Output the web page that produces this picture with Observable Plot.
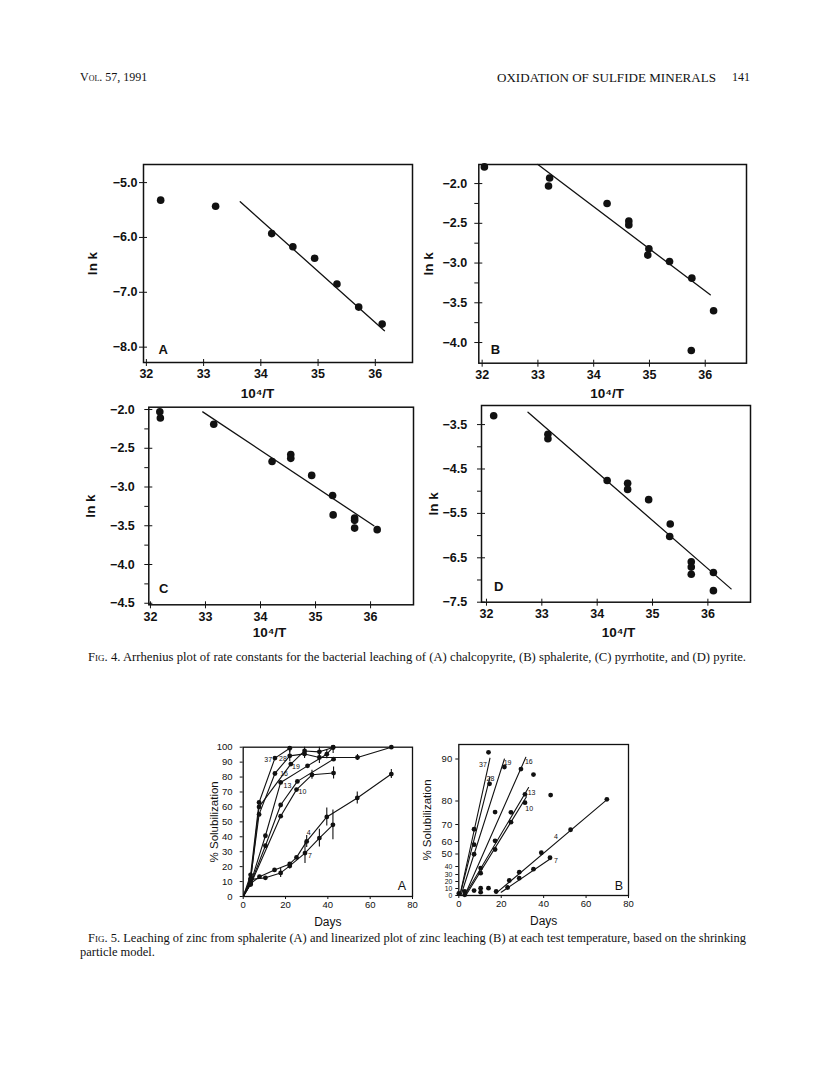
<!DOCTYPE html>
<html><head><meta charset="utf-8">
<script src="https://cdn.jsdelivr.net/npm/d3@7"></script>
<script src="https://cdn.jsdelivr.net/npm/@observablehq/plot@0.6"></script>
<style>
html,body{margin:0;padding:0;background:#fff;}
body{width:816px;height:1076px;position:relative;overflow:hidden;}
.abs{position:absolute;}
.serif{font-family:"Liberation Serif","Times New Roman",serif;color:#111;white-space:nowrap;}
.sc{font-variant:small-caps;}
</style>
</head><body>
<div class="abs serif" style="left:80px;top:70px;font-size:12px;"><span class="sc">Vol.</span> 57, 1991</div>
<div class="abs serif" id="runhead" style="left:497px;top:70px;font-size:11.5px;">OXIDATION OF SULFIDE MINERALS</div>
<div class="abs serif" style="left:732px;top:70px;font-size:12px;">141</div>
<div class="abs serif" id="cap4" style="left:88px;top:650px;font-size:10.8px;"><span class="sc">Fig.</span> 4. Arrhenius plot of rate constants for the bacterial leaching of (A) chalcopyrite, (B) sphalerite, (C) pyrrhotite, and (D) pyrite.</div>
<div class="abs serif" id="cap5a" style="left:88px;top:931px;font-size:10.8px;"><span class="sc">Fig.</span> 5. Leaching of zinc from sphalerite (A) and linearized plot of zinc leaching (B) at each test temperature, based on the shrinking</div>
<div class="abs serif" id="cap5b" style="left:80px;top:945px;font-size:10.8px;">particle model.</div>
<script>
// ---------------- FIG. 4 data ----------------
const invT_A = [32.25, 33.21, 34.19, 34.56, 34.94, 35.33, 35.71, 36.12];
const lnk_A  = [-5.32, -5.43, -5.93, -6.17, -6.38, -6.85, -7.27, -7.58];
const fitX_A = [33.64, 36.16];
const fitY_A = [-5.35, -7.70];

const invT_B = [32.04, 33.21, 33.19, 34.24, 34.63, 34.63, 34.99, 34.97, 35.36, 35.76, 36.15, 35.75];
const lnk_B  = [-1.79, -1.93, -2.03, -2.25, -2.47, -2.52, -2.82, -2.90, -2.98, -3.19, -3.60, -4.10];
const fitX_B = [33.0, 36.09];
const fitY_B = [-1.76, -3.40];

const invT_C = [32.17, 32.18, 33.15, 34.21, 34.55, 34.55, 34.93, 35.31, 35.32, 35.71, 35.71, 35.71, 36.12];
const lnk_C  = [-2.03, -2.11, -2.19, -2.67, -2.58, -2.63, -2.85, -3.11, -3.36, -3.40, -3.43, -3.53, -3.55];
const fitX_C = [32.95, 36.06];
const fitY_C = [-2.03, -3.50];

const invT_D = [32.13, 33.11, 33.11, 34.18, 34.55, 34.55, 34.93, 35.32, 35.31, 35.70, 35.70, 35.70, 36.10, 36.10];
const lnk_D  = [-3.30, -3.72, -3.82, -4.76, -4.82, -4.96, -5.19, -5.74, -6.02, -6.59, -6.71, -6.87, -6.83, -7.24];
const fitX_D = [32.75, 36.42];
const fitY_D = [-3.22, -7.20];

const xTicks4 = [32, 33, 34, 35, 36];
const yTicks_A = [-5, -6, -7, -8];
const yTicks_B = [-2, -2.5, -3, -3.5, -4];
const yMinor_B = [-2.25, -2.75, -3.25, -3.75];
const yTicks_C = [-2, -2.5, -3, -3.5, -4, -4.5];
const yMinor_C = [-2.25, -2.75, -3.25, -3.75, -4.25];
const yTicks_D = [-3.5, -4.5, -5.5, -6.5, -7.5];
const yMinor_D = [-4, -5, -6, -7];

// ---------------- FIG. 5A data (days, % solubilization, error half-width) ----------------
const dayA37 = [0, 3.5, 7.5, 15, 22];
const solA37 = [0, 14.5, 63, 92.7, 99.3];
const errA37 = [0, 0, 0, 0, 3];
const dayA28 = [0, 3.5, 7.5, 15, 22, 29, 36, 54, 70];
const solA28 = [0, 12, 55, 82.4, 94.2, 95.5, 93.1, 93.1, 100];
const errA28 = [0, 0, 0, 0, 4, 3, 4, 2, 0];
const dayA19 = [0, 3.5, 7.5, 22.5, 29, 36, 42.5];
const solA19 = [0, 11, 60, 88.7, 97.5, 96.9, 99.8];
const errA19 = [0, 0, 0, 0, 4, 4, 4];
const dayA16 = [0, 3.5, 10.5, 17.7, 30.4, 39.5, 42.5];
const solA16 = [0, 9, 40.7, 76.4, 87.5, 95.3, 100];
const errA16 = [0, 0, 0, 0, 0, 3, 0];
const dayA13 = [0, 3.5, 10.5, 17.7, 25.6, 42.7];
const solA13 = [0, 8.5, 34, 61.3, 77.1, 92];
const errA13 = [0, 0, 0, 0, 0, 0];
const dayA10 = [0, 3.5, 17.7, 25.2, 32.5, 42.7];
const solA10 = [0, 8, 53.8, 71.6, 81.5, 82.7];
const errA10 = [0, 0, 0, 0, 3, 4];
const dayA7 = [0, 3.8, 10.5, 17.7, 22, 29.2, 36, 42.4];
const solA7 = [0, 11.5, 12.5, 15.8, 20.5, 29.1, 39.1, 48];
const errA7 = [0, 0, 0, 3, 2, 7, 6, 10];
const dayA4 = [0, 3.3, 7.7, 14.8, 22, 25.2, 30, 39.5, 53.9, 70];
const solA4 = [0, 8.4, 13.3, 17.8, 21.8, 26.2, 36.9, 53.3, 66, 82];
const errA4 = [0, 0, 0, 0, 0, 0, 4, 6, 4, 3];

const labA_text = ["37", "28", "19", "16", "13", "10", "4", "7"];
const labA_day  = [11.8, 18.8, 24.9, 19.3, 20.9, 28.0, 30.9, 31.6];
const labA_sol  = [91.5, 92.4, 87.1, 82.0, 74.2, 70.4, 42.4, 27.3];

const xTicks5 = [0, 20, 40, 60, 80];
const yTicks5A = [0, 10, 20, 30, 40, 50, 60, 70, 80, 90, 100];

// ---------------- FIG. 5B data ----------------
const dayB = [14, 21.5, 29.3, 35.2, 14.5, 31.2, 43.3, 69.8, 31.2, 17.1, 24.6, 24.6, 7.2, 52.7, 7.2, 17.1, 17.1, 7.2, 38.9, 43, 10.3, 10.3, 35.2, 28.5, 28.5, 23.8, 23, 17.6, 14, 10.3, 10.3, 7.2, 2.8, 2.8, 0];
const solB = [91.6, 88.1, 87.6, 86.3, 84.1, 81.6, 81.4, 80.4, 79.3, 75.3, 75.2, 71, 67.2, 66.9, 57.5, 60.4, 53.6, 49.8, 51, 47, 38, 31.6, 36.6, 32.9, 24.7, 21.4, 11.4, 5.7, 10.4, 10.4, 4.7, 7.1, 5.7, 1, 3];
const fitB_label = ["37", "28", "19", "16", "13", "10", "4", "7"];
const fitB_day0 = [0.5, 0.5, 1, 2.8, 2.8, 3.3, 17.6, 20];
const fitB_sol0 = [0, 0, 0, 0, 0, 0, 3.3, 4.7];
const fitB_day1 = [14.7, 14.7, 21.5, 31.6, 32.9, 31.9, 70, 43];
const fitB_sol1 = [90.2, 85.7, 90, 90.4, 83.2, 81, 80.4, 46];
const labB_text = ["37", "28", "19", "16", "13", "10", "4", "7"];
const labB_day  = [11.4, 14.9, 23.0, 33.0, 34.3, 33.2, 45.8, 45.8];
const labB_sol  = [88.7, 85.3, 89.0, 89.4, 82.0, 76.8, 62.9, 45.0];
const yTicks5B_upper = [50, 60, 70, 80, 90];
const yTicks5B_lower = [0, 10, 20, 30, 40];
// non-linear (linearized) y axis of 5B: axis values and their heights above the x axis
const yStopsB = [0, 10, 20, 30, 40, 50, 60, 70, 80, 90, 93.5];
const yStopHeightsB = [0, 7, 14, 21, 29, 41.5, 54, 71, 94.5, 136.5, 151];

// ---------------- drawing ----------------
const FONT = '"Liberation Sans", Arial, Helvetica, sans-serif';
const fmt1 = d3.format(".1f");

function place(svg, left, top) {
  const wrap = document.createElement("div");
  wrap.className = "abs";
  wrap.style.left = left + "px";
  wrap.style.top = top + "px";
  wrap.appendChild(svg);
  document.body.appendChild(wrap);
}

function fig4(p) {
  const pts = p.xs.map((x, i) => ({x, y: p.ys[i]}));
  const fit = p.fx.map((x, i) => ({x, y: p.fy[i]}));
  const marks = [
    Plot.axisY(p.yTicks, {tickSize: 4, tickPadding: p.yPad, tickFormat: fmt1, label: null, fontSize: 12.5, fontWeight: "bold"}),
    Plot.axisY(p.yTicks, {tickSize: -4, tickFormat: () => "", label: null}),
    Plot.axisX(xTicks4, {tickSize: 4, tickPadding: 3, tickFormat: d => String(d), label: null, fontSize: 12.5, fontWeight: "bold"}),
    Plot.axisX(xTicks4, {tickSize: -3, tickFormat: () => "", label: null}),
  ];
  if (p.yMinor) marks.push(Plot.axisY(p.yMinor, {tickSize: 4, tickFormat: () => "", label: null}));
  marks.push(
    Plot.line(fit, {x: "x", y: "y", stroke: "#111", strokeWidth: 1.3}),
    Plot.dot(pts, {x: "x", y: "y", r: 3.8, fill: "#111", stroke: "none"}),
    Plot.frame({stroke: "#111", strokeWidth: 1.5}),
    Plot.text([p.letter], {frameAnchor: "bottom-left", dx: p.letDx, dy: p.letDy, textAnchor: "middle", lineAnchor: "middle", fontSize: 13, fontWeight: "bold"}),
    Plot.text(["10⁴/T"], {frameAnchor: "bottom-left", dx: p.xlDx, dy: p.xlDy, textAnchor: "middle", lineAnchor: "middle", fontSize: 13.5, fontWeight: "bold"}),
    Plot.text(["ln k"], {frameAnchor: "left", dx: p.ylDx, rotate: -90, textAnchor: "middle", lineAnchor: "middle", fontSize: 13.5, fontWeight: "bold"})
  );
  return Plot.plot({
    width: p.W, height: p.H,
    marginLeft: p.mL, marginRight: p.mR, marginTop: p.mT, marginBottom: p.mB,
    x: {domain: p.xDomain},
    y: {domain: p.yDomain},
    style: {fontFamily: FONT, fontSize: "12.5px", color: "#111", background: "transparent"},
    marks
  });
}

place(fig4({xs: invT_A, ys: lnk_A, fx: fitX_A, fy: fitY_A, xDomain: [31.95, 36.65], yDomain: [-8.28, -4.67],
  yTicks: yTicks_A, yMinor: null, letter: "A", W: 340, H: 260, mL: 63, mR: 8, mT: 14, mB: 48, yPad: 2,
  xlDx: 114, xlDy: 31, ylDx: -51, letDx: 19.7, letDy: -13}), 80, 150);

place(fig4({xs: invT_B, ys: lnk_B, fx: fitX_B, fy: fitY_B, xDomain: [31.94, 36.74], yDomain: [-4.26, -1.76],
  yTicks: yTicks_B, yMinor: yMinor_B, letter: "B", W: 340, H: 260, mL: 63.3, mR: 9, mT: 14, mB: 47.3, yPad: 7.6,
  xlDx: 128.4, xlDy: 30, ylDx: -50, letDx: 16.7, letDy: -13.4}), 415, 150);

place(fig4({xs: invT_C, ys: lnk_C, fx: fitX_C, fy: fitY_C, xDomain: [31.97, 36.78], yDomain: [-4.52, -1.97],
  yTicks: yTicks_C, yMinor: yMinor_C, letter: "C", W: 340, H: 250, mL: 68.3, mR: 7, mT: 11.7, mB: 40.7, yPad: 10,
  xlDx: 120.7, xlDy: 28, ylDx: -58.3, letDx: 15, letDy: -16}), 80, 395);

place(fig4({xs: invT_D, ys: lnk_D, fx: fitX_D, fy: fitY_D, xDomain: [31.91, 36.77], yDomain: [-7.5, -3.07],
  yTicks: yTicks_D, yMinor: yMinor_D, letter: "D", W: 340, H: 250, mL: 66, mR: 5, mT: 10, mB: 43.3, yPad: 10.3,
  xlDx: 137, xlDy: 30, ylDx: -48, letDx: 17.3, letDy: -15}), 415, 395);

// ---- Fig 5A ----
const seriesA = [
  ["37", dayA37, solA37, errA37], ["28", dayA28, solA28, errA28], ["19", dayA19, solA19, errA19],
  ["16", dayA16, solA16, errA16], ["13", dayA13, solA13, errA13], ["10", dayA10, solA10, errA10],
  ["7", dayA7, solA7, errA7], ["4", dayA4, solA4, errA4]
];
const rowsA = seriesA.flatMap(([t, ds, ss, es]) => ds.map((d, i) => ({t, day: d, sol: ss[i], err: es[i]})));
const errRows = rowsA.filter(r => r.err > 0);
const labRowsA = labA_text.map((t, i) => ({t, day: labA_day[i], sol: labA_sol[i]}));

const fig5A = Plot.plot({
  width: 225, height: 200, marginLeft: 42.7, marginRight: 13, marginTop: 11.7, marginBottom: 39,
  x: {domain: [0, 80]}, y: {domain: [0, 100]},
  style: {fontFamily: FONT, fontSize: "9.5px", color: "#111", background: "transparent"},
  marks: [
    Plot.axisY(yTicks5A, {tickSize: 3, tickPadding: 7.7, tickFormat: d => String(d), label: null, fontSize: 9.5}),
    Plot.axisX(xTicks5, {tickSize: 3, tickPadding: 2, tickFormat: d => String(d), label: null, fontSize: 9.5}),
    Plot.line(rowsA, {x: "day", y: "sol", z: "t", stroke: "#111", strokeWidth: 1.1, clip: true}),
    Plot.ruleX(errRows, {x: "day", y1: r => r.sol - r.err, y2: r => Math.min(100, r.sol + r.err), stroke: "#111", strokeWidth: 1.1}),
    Plot.dot(rowsA.filter(r => r.day > 0), {x: "day", y: "sol", r: 2.4, fill: "#111", stroke: "none"}),
    Plot.text(labRowsA, {x: "day", y: "sol", text: "t", fontSize: 7, fill: "#111"}),
    Plot.frame({stroke: "#111", strokeWidth: 1.3}),
    Plot.text(["A"], {frameAnchor: "bottom-right", dx: -10.7, dy: -11, textAnchor: "middle", lineAnchor: "middle", fontSize: 12.5}),
    Plot.text(["Days"], {frameAnchor: "bottom", dy: 25.7, lineAnchor: "middle", fontSize: 12}),
    Plot.text(["% Solubilization"], {frameAnchor: "left", dx: -29, rotate: -90, textAnchor: "middle", lineAnchor: "middle", fontSize: 11.5})
  ]
});
place(fig5A, 200, 735);

// ---- Fig 5B ----
const plotTopB = 9, plotBottomB = 200 - 40;
const rangeB = yStopHeightsB.map(h => plotBottomB - h * (plotBottomB - plotTopB) / yStopHeightsB[yStopHeightsB.length - 1]);
const ptsB = dayB.map((d, i) => ({day: d, sol: solB[i]}));
const fitRowsB = fitB_label.flatMap((t, i) => [
  {t, day: fitB_day0[i], sol: fitB_sol0[i]}, {t, day: fitB_day1[i], sol: fitB_sol1[i]}
]);
const labRowsB = labB_text.map((t, i) => ({t, day: labB_day[i], sol: labB_sol[i]}));

const fig5B = Plot.plot({
  width: 220, height: 200, marginLeft: 38.3, marginRight: 12, marginTop: plotTopB, marginBottom: 40,
  x: {domain: [0, 80]},
  y: {type: "linear", domain: yStopsB, range: rangeB},
  style: {fontFamily: FONT, fontSize: "9.5px", color: "#111", background: "transparent"},
  marks: [
    Plot.axisY(yTicks5B_upper, {tickSize: 3, tickPadding: 3.6, tickFormat: d => String(d), label: null, fontSize: 9.5}),
    Plot.axisY(yTicks5B_lower, {tickSize: 3, tickPadding: 3.6, tickFormat: d => String(d), label: null, fontSize: 6.8}),
    Plot.axisX(xTicks5, {tickSize: 3, tickPadding: 2, tickFormat: d => String(d), label: null, fontSize: 9.5}),
    Plot.line(fitRowsB, {x: "day", y: "sol", z: "t", stroke: "#111", strokeWidth: 1.1}),
    Plot.dot(ptsB, {x: "day", y: "sol", r: 2.4, fill: "#111", stroke: "none"}),
    Plot.text(labRowsB, {x: "day", y: "sol", text: "t", fontSize: 7, fill: "#111"}),
    Plot.frame({stroke: "#111", strokeWidth: 1.3}),
    Plot.text(["B"], {frameAnchor: "bottom-right", dx: -9.7, dy: -9.3, textAnchor: "middle", lineAnchor: "middle", fontSize: 12.5}),
    Plot.text(["Days"], {frameAnchor: "bottom", dy: 26, lineAnchor: "middle", fontSize: 12}),
    Plot.text(["% Solubilization"], {frameAnchor: "left", dx: -31, rotate: -90, textAnchor: "middle", lineAnchor: "middle", fontSize: 11.5})
  ]
});
place(fig5B, 420, 735);

// fit caption / running-head widths (layout only): scale font so the line spans the target width
function fitWidth(id, target) {
  const el = document.getElementById(id);
  const fs = parseFloat(el.style.fontSize);
  const w = el.getBoundingClientRect().width;
  el.style.fontSize = (fs * target / w) + "px";
  const w2 = el.getBoundingClientRect().width;
  const spaces = (el.textContent.match(/ /g) || []).length;
  if (spaces) el.style.wordSpacing = ((target - w2) / spaces) + "px";
}
fitWidth("runhead", 219);
fitWidth("cap4", 658);
fitWidth("cap5a", 658);
document.getElementById("cap5b").style.fontSize = document.getElementById("cap5a").style.fontSize;
</script>
</body></html>
